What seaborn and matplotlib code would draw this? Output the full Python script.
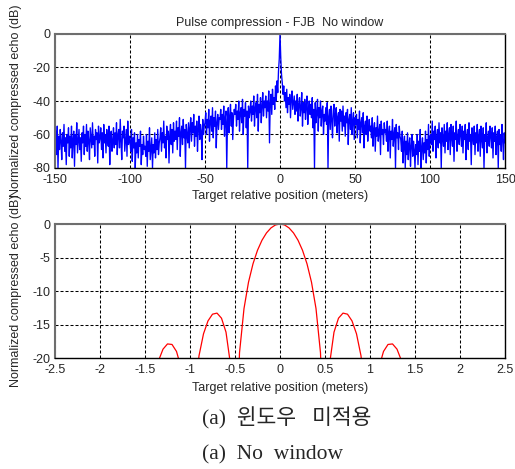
import numpy as np
import pandas as pd
import matplotlib
matplotlib.use("Agg")
import matplotlib.pyplot as plt
import seaborn as sns

# ---------------- data ----------------
top_x_start, top_x_end, top_n = -150, 150, 601
top_db = [
    -66,-58,-72,-55,-80,-61,-69,-57,-64,-75,-59,-67,-54,-70,-62,-78,-60,-65,-56,-73,
    -61,-68,-55,-74,-63,-58,-79,-60,-66,-53,-71,-64,-57,-69,-62,-76,-59,-65,-55,-72,
    -60,-67,-54,-70,-58,-64,-75,-56,-62,-68,-53,-66,-61,-73,-57,-63,-59,-77,-55,-65,
    -62,-56,-69,-59,-74,-54,-65,-60,-71,-57,-63,-67,-55,-78,-61,-58,-70,-64,-56,-68,
    -59,-66,-53,-72,-60,-57,-68,-51,-64,-75,-58,-62,-55,-70,-63,-57,-73,-52,-66,-61,
    -64,-70,-57,-76,-62,-68,-59,-80,-65,-71,-60,-74,-63,-67,-58,-78,-66,-72,-61,-69,
    -67,-73,-60,-79,-64,-70,-56,-75,-68,-62,-80,-66,-71,-59,-74,-63,-69,-57,-72,-65,
    -62,-56,-70,-59,-65,-52,-68,-61,-74,-55,-63,-58,-77,-60,-54,-66,-57,-71,-53,-64,
    -58,-63,-52,-69,-56,-61,-50,-73,-59,-55,-66,-51,-62,-57,-80,-54,-60,-65,-53,-68,
    -56,-50,-64,-53,-59,-48,-67,-55,-61,-52,-70,-57,-49,-63,-54,-58,-75,-51,-60,-55,
    -53,-47,-60,-51,-56,-45,-64,-52,-49,-58,-44,-62,-50,-55,-46,-68,-53,-48,-57,-50,
    -51,-45,-57,-48,-54,-43,-61,-50,-46,-80,-52,-44,-59,-49,-42,-55,-47,-63,-50,-45,
    -48,-42,-55,-46,-51,-40,-58,-47,-44,-53,-39,-60,-45,-49,-41,-56,-46,-80,-43,-50,
    -46,-40,-52,-43,-48,-37,-55,-44,-41,-50,-36,-58,-42,-47,-38,-53,-43,-35,-49,-40,
    -44,-37,-50,-40,-46,-34,-65,-41,-36,-48,-33,-42,-38,-45,-31,-40,-28,-35,-22,-15,
    0,
    -14,-24,-29,-36,-31,-40,-35,-44,-33,-47,-38,-42,-36,-50,-39,-34,-45,-41,-37,-48,
    -40,-46,-36,-52,-42,-38,-49,-44,-35,-55,-41,-47,-39,-51,-43,-37,-54,-45,-40,-48,
    -42,-50,-38,-56,-45,-80,-41,-53,-47,-39,-58,-44,-50,-40,-55,-46,-43,-60,-48,-52,
    -44,-54,-41,-80,-49,-45,-57,-43,-51,-62,-46,-42,-55,-48,-44,-59,-50,-47,-64,-45,
    -52,-46,-58,-43,-55,-49,-61,-47,-53,-45,-66,-51,-48,-57,-44,-60,-52,-47,-63,-50,
    -54,-48,-62,-51,-57,-46,-65,-53,-50,-59,-47,-68,-55,-52,-60,-49,-64,-56,-51,-58,
    -55,-62,-50,-67,-57,-53,-70,-56,-61,-49,-64,-58,-54,-72,-52,-60,-57,-66,-53,-59,
    -57,-64,-52,-70,-59,-55,-74,-58,-63,-51,-67,-60,-56,-80,-54,-62,-59,-69,-55,-61,
    -63,-70,-58,-77,-65,-61,-80,-64,-72,-59,-75,-66,-62,-79,-67,-60,-73,-64,-69,-80,
    -66,-72,-60,-78,-64,-70,-57,-80,-68,-62,-75,-65,-71,-58,-77,-63,-69,-54,-73,-61,
    -60,-66,-52,-70,-58,-63,-55,-74,-61,-57,-68,-53,-65,-59,-80,-56,-62,-67,-54,-71,
    -58,-64,-53,-69,-60,-56,-72,-54,-62,-67,-55,-76,-59,-63,-52,-70,-61,-57,-66,-54,
    -60,-67,-55,-71,-58,-63,-54,-75,-61,-57,-69,-53,-64,-60,-78,-56,-62,-66,-55,-72,
    -59,-65,-54,-70,-61,-57,-73,-55,-63,-68,-56,-80,-60,-64,-53,-71,-62,-58,-67,-55,
    -61,-68,-56,-74,-59,-64,-55,-72,-62,-58,-80,-57,-66,-60,-70,-54,-63,-75,-59,-65,
]

bot_x_start, bot_x_end, bot_n = -1.5, 1.5, 61
bot_db = [
    -40, -29.4, -23.5, -20.41, -18.68, -17.90, -17.98, -19.02, -21.4, -26.6,
    -40, -25.7, -19.67, -16.39, -14.46, -13.46, -13.30, -14.06, -16.14, -20.97,
    -40, -19.23, -12.62, -8.69, -5.94, -3.92, -2.42, -1.33, -0.58, -0.14,
    0.0,
    -0.14, -0.58, -1.33, -2.42, -3.92, -5.94, -8.69, -12.62, -19.23, -40,
    -20.97, -16.14, -14.06, -13.30, -13.46, -14.46, -16.39, -19.67, -25.7, -40,
    -26.6, -21.4, -19.02, -17.98, -17.90, -18.68, -20.41, -23.5, -29.4, -40,
]

top_xticks = [-150, -100, -50, 0, 50, 100, 150]
top_xlabels = ["-150", "-100", "-50", "0", "50", "100", "150"]
top_yticks = [-80, -60, -40, -20, 0]
top_ylabels = ["-80", "-60", "-40", "-20", "0"]
bot_xticks = [-2.5, -2, -1.5, -1, -0.5, 0, 0.5, 1, 1.5, 2, 2.5]
bot_xlabels = ["-2.5", "-2", "-1.5", "-1", "-0.5", "0", "0.5", "1", "1.5", "2", "2.5"]
bot_yticks = [-20, -15, -10, -5, 0]
bot_ylabels = ["-20", "-15", "-10", "-5", "0"]

title_text = "Pulse compression - FJB  No window"
xlabel_text = "Target relative position (meters)"
ylabel_text = "Normalized compressed echo (dB)"
caption_1 = "(a)  윈도우   미적용"
caption_2 = "(a)  No  window"

# ---------------- style ----------------
sns.set_theme(style="white")
plt.rcParams["font.family"] = ["Liberation Sans", "DejaVu Sans"]
plt.rcParams["axes.unicode_minus"] = False

fig = plt.figure(figsize=(5.15, 4.69), dpi=100)
W, H = 515, 469
ax1 = fig.add_axes([55 / W, 1 - 168 / H, 450 / W, 134 / H])
ax2 = fig.add_axes([55 / W, 1 - 358 / H, 450 / W, 134 / H])

df_top = pd.DataFrame({"x": np.linspace(top_x_start, top_x_end, top_n), "y": top_db})
df_bot = pd.DataFrame({"x": np.linspace(bot_x_start, bot_x_end, bot_n), "y": bot_db})

sns.lineplot(data=df_top, x="x", y="y", ax=ax1, color="#0000ff", lw=0.95, sort=False, estimator=None)
sns.lineplot(data=df_bot, x="x", y="y", ax=ax2, color="#ff0000", lw=0.9, sort=False, estimator=None)

fs = 9
for ax, xt, xl, yt, yl, xlim, ylim, xlp in [
    (ax1, top_xticks, top_xlabels, top_yticks, top_ylabels, (-150, 150), (-80, 0), 2.5),
    (ax2, bot_xticks, bot_xlabels, bot_yticks, bot_ylabels, (-2.5, 2.5), (-20, 0), 4.0),
]:
    ax.set_xlim(*xlim)
    ax.set_ylim(*ylim)
    ax.set_xticks(xt)
    ax.set_xticklabels(xl, fontsize=fs)
    ax.set_yticks(yt)
    ax.set_yticklabels(yl, fontsize=fs)
    ax.grid(True, color="black", linestyle=(0, (2.9, 1.9)), linewidth=0.75)
    ax.tick_params(axis="x", direction="in", length=3, color="black", pad=4.5)
    ax.tick_params(axis="y", direction="in", length=3, color="black", pad=3.5)
    for side in ("top", "left"):
        ax.spines[side].set_color("#6e6e6e")
        ax.spines[side].set_linewidth(1.5)
    for side in ("bottom", "right"):
        ax.spines[side].set_color("black")
        ax.spines[side].set_linewidth(1.0)
    ax.set_xlabel(xlabel_text, fontsize=fs, labelpad=xlp)
    ax.set_ylabel(ylabel_text, fontsize=fs, labelpad=7)
    ax.set_facecolor("white")

ax1.set_title(title_text, fontsize=fs, pad=6)

fig.text(202 / W, 1 - 418 / H, caption_1, fontsize=15.5,
         family=["Liberation Serif", "Noto Sans CJK KR"], ha="left", va="center")
fig.text(202 / W, 1 - 455 / H, caption_2, fontsize=15.5,
         family=["Liberation Serif", "Noto Sans CJK KR"], ha="left", va="center")

fig.savefig("out.png", dpi=100, facecolor="white")
